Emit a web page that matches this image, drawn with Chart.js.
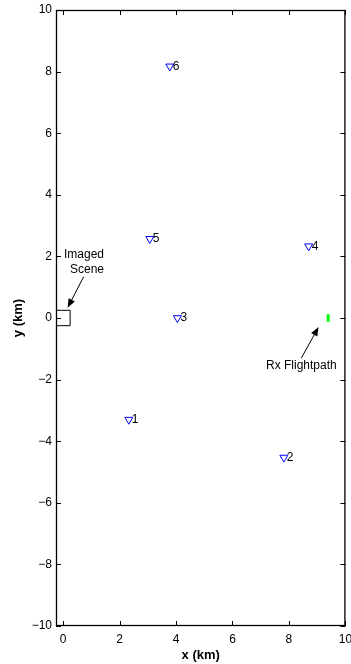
<!DOCTYPE html>
<html>
<head>
<meta charset="utf-8">
<script src="https://cdn.jsdelivr.net/npm/chart.js@4/dist/chart.umd.min.js"></script>
<style>
  html, body { margin: 0; padding: 0; background: #fff; }
</style>
</head>
<body>
<canvas id="chart" width="351" height="664"></canvas>
<script>
// receiver stations (km)
const stationLabels = ['1', '2', '3', '4', '5', '6'];
const stationX = [2.33, 7.82, 4.05, 8.70, 3.07, 3.78];
const stationY = [-3.30, -4.53, 0.0, 2.33, 2.57, 8.17];

// imaged scene box (km)
const sceneX = [-0.25, 0.25, 0.25, -0.25, -0.25];
const sceneY = [-0.25, -0.25, 0.25, 0.25, -0.25];

// receiver flight path (km)
const pathX = [9.39, 9.39];
const pathY = [0.12, -0.12];

const xTicks = [0, 2, 4, 6, 8, 10];
const yTicks = [-10, -8, -6, -4, -2, 0, 2, 4, 6, 8, 10];

// annotations (km)
const noteText = [['Imaged', 'Scene'], ['Rx Flightpath']];
const noteX = [1.45, 8.44];
const noteY = [[2.04, 1.57], [-1.54]];
const noteAlign = ['right', 'center'];
const arrowFrom = [[0.73, 1.34], [8.44, -1.30]];
const arrowTo = [[0.16, 0.33], [9.05, -0.29]];

const FONT = "'Liberation Sans', Arial, Helvetica, sans-serif";
Chart.defaults.font.family = FONT;
Chart.defaults.color = '#000';

function pts(xs, ys) {
    return xs.map((v, i) => ({x: v, y: ys[i]}));
}

const frame = {
    id: 'frame',
    afterDatasetsDraw(chart) {
        const {ctx, chartArea: a, scales: {x, y}} = chart;
        ctx.save();
        ctx.strokeStyle = '#000';
        ctx.lineWidth = 1;
        ctx.beginPath();
        xTicks.forEach(v => {
            const px = Math.round(x.getPixelForValue(v)) + 0.5;
            ctx.moveTo(px, a.bottom); ctx.lineTo(px, a.bottom - 5);
            ctx.moveTo(px, a.top); ctx.lineTo(px, a.top + 5);
        });
        yTicks.forEach(v => {
            const py = Math.round(y.getPixelForValue(v)) + 0.5;
            ctx.moveTo(a.left, py); ctx.lineTo(a.left + 5, py);
            ctx.moveTo(a.right, py); ctx.lineTo(a.right - 5, py);
        });
        ctx.stroke();
        ctx.lineWidth = 1.3;
        ctx.strokeRect(a.left + 0.5, a.top + 0.5, a.width - 1, a.height - 1);

        // station numbers
        ctx.fillStyle = '#000';
        ctx.font = '12px ' + FONT;
        ctx.textAlign = 'left';
        ctx.textBaseline = 'middle';
        chart.getDatasetMeta(0).data.forEach((p, i) => {
            ctx.fillText(stationLabels[i], p.x + 3, p.y);
        });

        // annotations with arrows
        noteText.forEach((lines, i) => {
            ctx.textAlign = noteAlign[i];
            lines.forEach((t, j) => {
                ctx.fillText(t, x.getPixelForValue(noteX[i]), y.getPixelForValue(noteY[i][j]));
            });
            const x0 = x.getPixelForValue(arrowFrom[i][0]), y0 = y.getPixelForValue(arrowFrom[i][1]);
            const x1 = x.getPixelForValue(arrowTo[i][0]), y1 = y.getPixelForValue(arrowTo[i][1]);
            const ang = Math.atan2(y1 - y0, x1 - x0);
            ctx.lineWidth = 1;
            ctx.beginPath();
            ctx.moveTo(x0, y0);
            ctx.lineTo(x1 - 6 * Math.cos(ang), y1 - 6 * Math.sin(ang));
            ctx.stroke();
            ctx.beginPath();
            ctx.moveTo(x1, y1);
            ctx.lineTo(x1 - 9 * Math.cos(ang) + 3.5 * Math.sin(ang), y1 - 9 * Math.sin(ang) - 3.5 * Math.cos(ang));
            ctx.lineTo(x1 - 9 * Math.cos(ang) - 3.5 * Math.sin(ang), y1 - 9 * Math.sin(ang) + 3.5 * Math.cos(ang));
            ctx.closePath();
            ctx.fill();
        });
        ctx.restore();
    }
};

new Chart(document.getElementById('chart'), {
    type: 'scatter',
    data: {
        datasets: [{
            data: pts(stationX, stationY),
            pointStyle: 'triangle',
            rotation: 180,
            pointRadius: 4.6,
            backgroundColor: 'rgba(0,0,0,0)',
            borderColor: '#0000ff',
            borderWidth: 1
        }, {
            data: pts(sceneX, sceneY),
            showLine: true,
            pointRadius: 0,
            borderColor: '#000',
            borderWidth: 1
        }, {
            data: pts(pathX, pathY),
            showLine: true,
            pointRadius: 0,
            borderColor: '#00ff00',
            borderWidth: 3
        }]
    },
    options: {
        responsive: false,
        animation: false,
        devicePixelRatio: 1,
        layout: { padding: { top: 10, right: 4, left: 0, bottom: 0 } },
        plugins: {
            legend: { display: false },
            tooltip: { enabled: false }
        },
        scales: {
            x: {
                type: 'linear',
                min: -0.25,
                max: 10,
                grid: { display: false, drawTicks: false },
                border: { display: false },
                afterBuildTicks: s => { s.ticks = xTicks.map(v => ({value: v})); },
                afterFit: s => { s.height = 38; s.paddingLeft = 0; s.paddingRight = 0; },
                ticks: { padding: 6, maxRotation: 0, autoSkip: false, font: { size: 12 } },
                title: {
                    display: true,
                    text: 'x (km)',
                    font: { size: 13, weight: 'bold' },
                    padding: { top: 0, bottom: 1 }
                }
            },
            y: {
                type: 'linear',
                min: -10,
                max: 10,
                grid: { display: false, drawTicks: false },
                border: { display: false },
                afterBuildTicks: s => { s.ticks = yTicks.map(v => ({value: v})); },
                afterFit: s => { s.width = 56; s.paddingTop = 0; s.paddingBottom = 0; },
                ticks: {
                    padding: 4,
                    autoSkip: false,
                    font: { size: 12 },
                    callback: v => String(v).replace('-', '\u2212')
                },
                title: {
                    display: true,
                    text: 'y (km)',
                    font: { size: 13, weight: 'bold' },
                    padding: { top: 11, bottom: 0 }
                }
            }
        }
    },
    plugins: [frame]
});
</script>
</body>
</html>
